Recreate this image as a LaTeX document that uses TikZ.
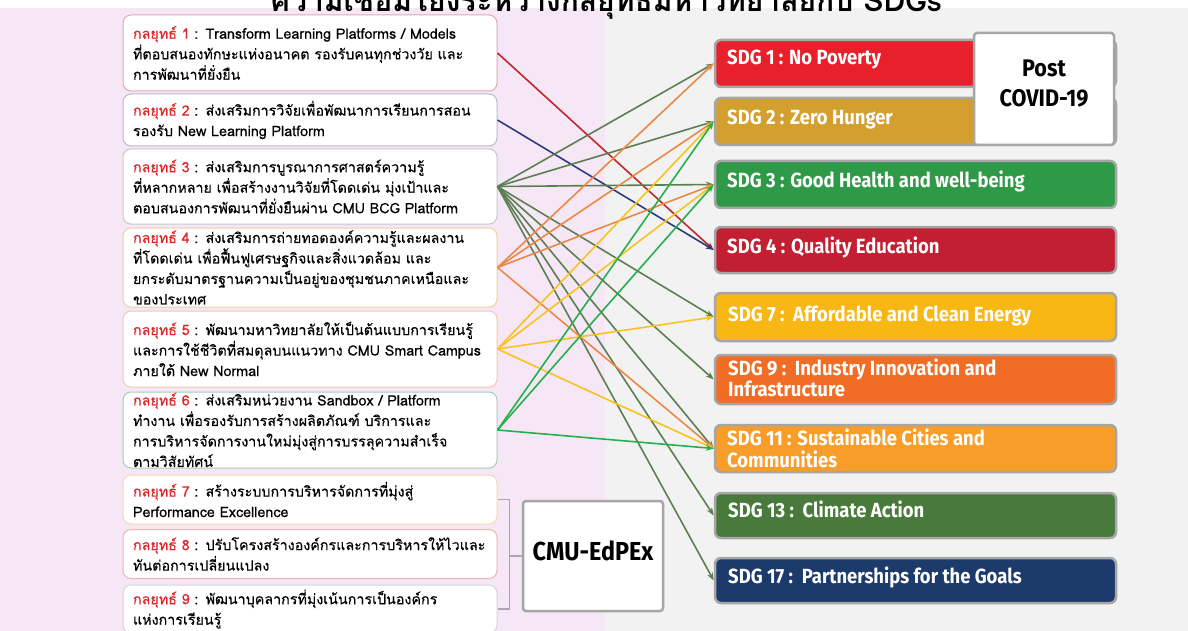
\documentclass[tikz,border=0pt]{standalone}
\usepackage{fontspec}
\usetikzlibrary{arrows.meta}
\newfontfamily\thaifont[Script=Thai,FakeBold=0.35]{Loma}
\newfontfamily\titlefont[Script=Thai]{Loma}
\newfontfamily\sdgfont[FakeStretch=0.9]{Fira Sans}
\definecolor{pinkbg}{HTML}{F5E7F5}
\definecolor{greybg}{HTML}{F2F2F2}
\definecolor{sred}{HTML}{E0262B}
\definecolor{bA}{HTML}{E3A9B3}
\definecolor{bB}{HTML}{B9B9D4}
\definecolor{bC}{HTML}{C8C8C8}
\definecolor{bD}{HTML}{F2CFA0}
\definecolor{bE}{HTML}{F6C7B0}
\definecolor{bF}{HTML}{A9CDB5}
\definecolor{bG}{HTML}{F5D9B0}
\definecolor{bH}{HTML}{F0B5AE}
\definecolor{bI}{HTML}{D5D5D5}
\definecolor{sdgA}{HTML}{E8202C}
\definecolor{sdgB}{HTML}{D3A02F}
\definecolor{sdgC}{HTML}{2E9A47}
\definecolor{sdgD}{HTML}{C31F32}
\definecolor{sdgG}{HTML}{F9B716}
\definecolor{sdgI}{HTML}{F16C25}
\definecolor{sdgK}{HTML}{F89D2A}
\definecolor{sdgM}{HTML}{487A3C}
\definecolor{sdgQ}{HTML}{1C3A6B}
\definecolor{sdgborder}{HTML}{A6A6A6}
\definecolor{brk}{HTML}{B0A2B8}
\definecolor{lred}{HTML}{C0282D}
\definecolor{lnavy}{HTML}{2D3C7C}
\definecolor{ldg}{HTML}{5C7F52}
\definecolor{lor}{HTML}{EC8845}
\definecolor{lyel}{HTML}{F8C31E}
\definecolor{lgr}{HTML}{25B04D}
\newcommand{\klt}[1]{{\color{sred}กลยุทธ์ #1}}
\begin{document}
\begin{tikzpicture}[x=1pt,y=-1pt,
  strat/.style={draw=#1, line width=1pt, fill=white, rounded corners=8pt,
    text width=354pt, inner xsep=10pt, inner ysep=0pt, align=left,
    font=\thaifont\fontsize{14.3}{20.5}\selectfont},
  sdgbox/.style={draw=sdgborder, line width=2.5pt, fill=#1, rounded corners=6pt,
    minimum width=401pt, inner sep=0pt},
  sdglabel/.style={text=white, font=\sdgfont\bfseries\fontsize{20.5}{20}\selectfont,
    anchor=base west, inner sep=0pt},
  infobox/.style={draw=sdgborder, line width=2.5pt, fill=white, rounded corners=3pt, inner sep=0pt},
  infotext/.style={text=black, font=\sdgfont\bfseries\fontsize{24}{30}\selectfont, anchor=base, inner sep=0pt},
  link/.style={draw=#1, line width=1.6pt, -{Stealth[length=8pt,width=6pt]}},
  bracket/.style={draw=brk, line width=1.5pt}
]
\useasboundingbox (0,0) rectangle (1188,631);
\fill[white] (0,0) rectangle (1188,631);
\fill[pinkbg] (0,8) rectangle (605,631);
\fill[greybg] (605,8) rectangle (1188,631);

% title (cut by the top edge, as in the reference)
\node[anchor=base, inner sep=0pt, font=\titlefont\bfseries\fontsize{30}{30}\selectfont] (title) at (606,12)
  {ความเชื่อมโยงระหว่างกลยุทธ์มหาวิทยาลัยกับ SDGs};

% strategy boxes
\node[strat=bA, minimum height=76pt] (s1) at (310,53)
  {\klt{1} : Transform Learning Platforms / Models\\ที่ตอบสนองทักษะแห่งอนาคต รองรับคนทุกช่วงวัย และ\\การพัฒนาที่ยั่งยืน};
\node[strat=bB, minimum height=52pt] (s2) at (310,120)
  {\klt{2} : ส่งเสริมการวิจัยเพื่อพัฒนาการเรียนการสอน\\รองรับ New Learning Platform};
\node[strat=bC, minimum height=75pt] (s3) at (310,186.5)
  {\klt{3} : ส่งเสริมการบูรณาการศาสตร์ความรู้\\ที่หลากหลาย เพื่อสร้างงานวิจัยที่โดดเด่น มุ่งเป้าและ\\ตอบสนองการพัฒนาที่ยั่งยืนผ่าน CMU BCG Platform};
\node[strat=bD, minimum height=79pt] (s4) at (310,267.5)
  {\klt{4} : ส่งเสริมการถ่ายทอดองค์ความรู้และผลงาน\\ที่โดดเด่น เพื่อฟื้นฟูเศรษฐกิจและสิ่งแวดล้อม และ\\ยกระดับมาตรฐานความเป็นอยู่ของชุมชนภาคเหนือและ\\ของประเทศ};
\node[strat=bE, minimum height=76pt] (s5) at (310,349)
  {\klt{5} : พัฒนามหาวิทยาลัยให้เป็นต้นแบบการเรียนรู้\\และการใช้ชีวิตที่สมดุลบนแนวทาง CMU Smart Campus\\ภายใต้ New Normal};
\node[strat=bF, minimum height=76pt] (s6) at (310,430)
  {\klt{6} : ส่งเสริมหน่วยงาน Sandbox / Platform\\ทำงาน เพื่อรองรับการสร้างผลิตภัณฑ์ บริการและ\\การบริหารจัดการงานใหม่มุ่งสู่การบรรลุความสำเร็จ\\ตามวิสัยทัศน์};
\node[strat=bG, minimum height=49pt] (s7) at (310,499.5)
  {\klt{7} : สร้างระบบการบริหารจัดการที่มุ่งสู่\\Performance Excellence};
\node[strat=bH, minimum height=49pt] (s8) at (310,554)
  {\klt{8} : ปรับโครงสร้างองค์กรและการบริหารให้ไวและ\\ทันต่อการเปลี่ยนแปลง};
\node[strat=bI, minimum height=48pt] (s9) at (310,609)
  {\klt{9} : พัฒนาบุคลากรที่มุ่งเน้นการเป็นองค์กร\\แห่งการเรียนรู้};

% SDG boxes
\node[sdgbox=sdgA, minimum height=47pt] (g1) at (915.5,63.5) {};
\node[sdgbox=sdgB, minimum height=47pt] (g2) at (915.5,121.5) {};
\node[sdgbox=sdgC, minimum height=47pt] (g3) at (915.5,184.5) {};
\node[sdgbox=sdgD, minimum height=46pt] (g4) at (915.5,250) {};
\node[sdgbox=sdgG, minimum height=48pt] (g7) at (915.5,317) {};
\node[sdgbox=sdgI, minimum height=49pt] (g9) at (915.5,379.5) {};
\node[sdgbox=sdgK, minimum height=47pt] (g11) at (915.5,448.5) {};
\node[sdgbox=sdgM, minimum height=45pt] (g13) at (915.5,515.5) {};
\node[sdgbox=sdgQ, minimum height=45pt] (g17) at (915.5,580.5) {};

\node[sdglabel] (t1) at (727,65) {SDG 1 : No Poverty};
\node[sdglabel] (t2) at (727,125) {SDG 2 : Zero Hunger};
\node[sdglabel] (t3) at (727,188) {SDG 3 : Good Health and well-being};
\node[sdglabel] (t4) at (727,253) {SDG 4 : Quality Education};
\node[sdglabel] (t7) at (728,321) {SDG 7 :\ \ Affordable and Clean Energy};
\node[sdglabel] (t9) at (728,375) {\begin{tabular}[t]{@{}l@{}}SDG 9 :\ \ Industry Innovation and\\Infrastructure\end{tabular}};
\node[sdglabel] (t11) at (727,445) {\begin{tabular}[t]{@{}l@{}}SDG 11 : Sustainable Cities and\\Communities\end{tabular}};
\node[sdglabel] (t13) at (728,517) {SDG 13 :\ \ Climate Action};
\node[sdglabel] (t17) at (728,583) {SDG 17 :\ \ Partnerships for the Goals};

% Post COVID-19 box
\node[infobox, minimum width=140pt, minimum height=112pt] (post) at (1044,89) {};
\node[infotext] (postA) at (1044,77) {Post};
\node[infotext] (postB) at (1044,107) {COVID-19};

% CMU-EdPEx box and bracket
\node[infobox, minimum width=140pt, minimum height=110pt] (cmu) at (593,556) {};
\node[infotext, font=\sdgfont\bfseries\fontsize{26}{30}\selectfont] (cmutext) at (593,560) {CMU-EdPEx};
\draw[bracket] (s7.east) -- ++(12,0) |- (cmu.west);
\draw[bracket] (s9.east) -- ++(12,0) |- (cmu.west);

% connectors
\draw[link=lred] (s1.east) -- (g4.west);
\draw[link=lnavy] (s2.east) -- (g4.west);
\foreach \g in {g1,g2,g3,g7,g9,g11,g13,g17} \draw[link=ldg] (s3.east) -- (\g.west);
\foreach \g in {g1,g2,g3,g11} \draw[link=lor] (s4.east) -- (\g.west);
\foreach \g in {g2,g3,g7,g11} \draw[link=lyel] (s5.east) -- (\g.west);
\foreach \g in {g2,g3,g11} \draw[link=lgr] (s6.east) -- (\g.west);
\end{tikzpicture}
\end{document}
